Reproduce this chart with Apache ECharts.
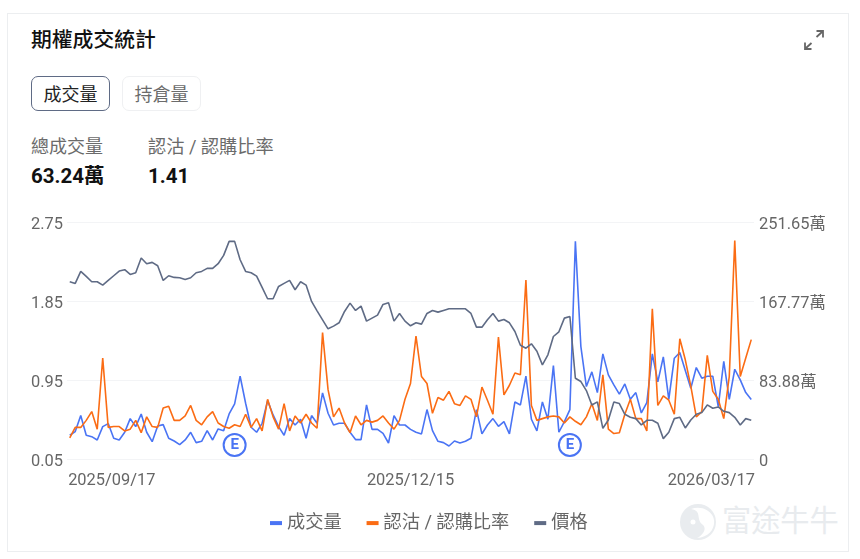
<!DOCTYPE html>
<html><head><meta charset="utf-8">
<script src="https://cdn.jsdelivr.net/npm/echarts@6/dist/echarts.min.js"></script>
<style>
html,body{margin:0;padding:0;background:#fff;width:860px;height:559px;overflow:hidden}
body{font-family:Roboto,"Noto Sans CJK TC",sans-serif;position:relative}
#card{position:absolute;left:7px;top:13px;width:840px;height:537px;border:1px solid #eceef0;box-sizing:content-box}
.t{position:absolute;white-space:nowrap;line-height:1}
.btn{position:absolute;top:76px;width:79px;height:35px;box-sizing:border-box;border-radius:7px;text-align:center;line-height:35px;font-size:18px}
#chart{position:absolute;left:0;top:0;width:860px;height:559px}
</style></head><body>
<div id="card"></div>
<div class="t" style="left:31px;top:30px;font-size:20.8px;font-weight:500;color:#111">期權成交統計</div>
<div class="btn" style="left:31px;border:1.5px solid #5f6b85;color:#222">成交量</div>
<div class="btn" style="left:122px;border:1.5px solid #eff0f2;color:#6b6b6b">持倉量</div>
<div class="t" style="left:31px;top:138px;font-size:18px;color:#6b6b6b">總成交量</div>
<div class="t" style="left:148px;top:138px;font-size:18.2px;color:#6b6b6b">認沽 / 認購比率</div>
<div class="t" style="left:31px;top:166px;font-size:20.5px;font-weight:700;color:#111">63.24萬</div>
<div class="t" style="left:148px;top:166px;font-size:20.5px;font-weight:700;color:#111">1.41</div>
<svg style="position:absolute;left:800px;top:26px" width="28" height="28" viewBox="0 0 28 28" fill="none" stroke="#666" stroke-width="1.8">
<path d="M16.5 11 L22 6 M16.5 5 H23 V11.5 M11.5 17 L6 22 M5 16.5 V23 H11.5"/></svg>
<svg style="position:absolute;left:679px;top:503px" width="38" height="38" viewBox="0 0 38 38">
<circle cx="19" cy="19" r="18" fill="#e9ecef"/><path d="M12 6 C24 8 16 16 24 22 C28 26 24 32 18 35 C30 34 36 26 35 17 C34 9 24 2 12 6Z" fill="#fff"/><circle cx="14" cy="19" r="2.5" fill="#fff"/></svg>
<div class="t" style="left:722px;top:507px;font-size:29.2px;color:#e8ebee">富途牛牛</div>
<div id="chart"></div>
<script>
const dates = [
'2025/09/17','2025/09/18','2025/09/19','2025/09/22','2025/09/23','2025/09/24','2025/09/25','2025/09/26','2025/09/29','2025/09/30',
'2025/10/01','2025/10/02','2025/10/03','2025/10/06','2025/10/07','2025/10/08','2025/10/09','2025/10/10','2025/10/13','2025/10/14','2025/10/15','2025/10/16','2025/10/17','2025/10/20','2025/10/21','2025/10/22','2025/10/23','2025/10/24','2025/10/27','2025/10/28','2025/10/29','2025/10/30','2025/10/31',
'2025/11/03','2025/11/04','2025/11/05','2025/11/06','2025/11/07','2025/11/10','2025/11/11','2025/11/12','2025/11/13','2025/11/14','2025/11/17','2025/11/18','2025/11/19','2025/11/20','2025/11/21','2025/11/24','2025/11/25','2025/11/26','2025/11/28',
'2025/12/01','2025/12/02','2025/12/03','2025/12/04','2025/12/05','2025/12/08','2025/12/09','2025/12/10','2025/12/11','2025/12/12','2025/12/15','2025/12/16','2025/12/17','2025/12/18','2025/12/19','2025/12/22','2025/12/23','2025/12/24','2025/12/26','2025/12/29','2025/12/30','2025/12/31',
'2026/01/02','2026/01/05','2026/01/06','2026/01/07','2026/01/08','2026/01/09','2026/01/12','2026/01/13','2026/01/14','2026/01/15','2026/01/16','2026/01/20','2026/01/21','2026/01/22','2026/01/23','2026/01/26','2026/01/27','2026/01/28','2026/01/29','2026/01/30',
'2026/02/02','2026/02/03','2026/02/04','2026/02/05','2026/02/06','2026/02/09','2026/02/10','2026/02/11','2026/02/12','2026/02/13','2026/02/17','2026/02/18','2026/02/19','2026/02/20','2026/02/23','2026/02/24','2026/02/25','2026/02/26','2026/02/27',
'2026/03/02','2026/03/03','2026/03/04','2026/03/05','2026/03/06','2026/03/09','2026/03/10','2026/03/11','2026/03/12','2026/03/13','2026/03/16','2026/03/17'];
const volume = [25.2,29.1,46.1,25.2,23.7,20.2,34.4,37.6,22.0,20.2,28.4,42.9,34.4,47.8,28.4,18.4,35.1,36.5,22.0,19.1,15.2,20.2,28.4,17.4,18.8,30.1,20.2,31.9,30.1,47.8,58.5,87.9,59.2,33.7,28.4,37.9,62.0,46.8,34.4,25.2,42.9,36.1,42.2,22.0,46.1,37.9,70.2,48.6,36.1,37.9,37.9,28.4,20.6,20.6,57.4,31.5,31.5,27.3,17.0,46.1,36.1,36.1,31.5,28.4,26.6,52.5,30.1,18.8,17.4,13.8,19.1,17.0,18.8,22.0,52.5,26.6,36.1,42.9,34.7,39.7,26.6,60.6,57.4,87.9,42.2,29.8,60.6,42.2,99.2,28.4,39.7,52.5,231.1,119.4,76.9,92.5,70.5,111.6,89.3,78.7,68.8,79.7,63.4,70.5,48.9,59.9,111.6,81.9,108.4,63.4,107.0,113.1,93.9,75.1,97.1,85.8,87.9,87.9,55.6,103.8,63.4,95.3,84.0,70.5,63.24];
const ratio = [0.29,0.41,0.41,0.49,0.59,0.39,1.20,0.41,0.42,0.42,0.37,0.39,0.49,0.35,0.53,0.42,0.41,0.63,0.65,0.49,0.49,0.54,0.66,0.49,0.44,0.53,0.59,0.46,0.42,0.40,0.44,0.42,0.56,0.41,0.51,0.37,0.73,0.53,0.39,0.68,0.37,0.54,0.46,0.56,0.46,0.40,1.49,0.84,0.53,0.63,0.46,0.35,0.54,0.44,0.49,0.47,0.49,0.54,0.46,0.39,0.49,0.73,0.91,1.45,0.99,0.91,0.57,0.75,0.72,0.82,0.68,0.66,0.77,0.73,0.53,0.87,0.72,0.56,1.44,0.78,0.89,1.03,1.01,2.09,0.66,0.49,0.51,0.53,0.54,0.53,0.46,0.53,0.48,0.44,0.53,0.68,0.49,1.01,0.39,0.34,0.35,0.56,0.73,0.51,0.51,0.37,1.76,0.66,0.77,0.72,0.56,1.42,1.18,0.88,0.53,0.59,1.23,0.82,0.73,0.51,0.99,2.54,0.99,1.20,1.41];
const price = [53.1,52.6,56.2,54.7,53.1,53.1,52.1,53.5,54.9,56.3,56.7,55.3,55.8,60.2,58.5,58.9,57.9,53.5,54.9,54.4,54.3,53.8,54.3,55.8,56.2,57.1,57.1,58.5,61.0,65.2,65.2,59.7,56.2,55.8,54.8,51.4,48.0,48.0,51.7,52.6,53.5,50.7,53.1,52.1,47.2,44.4,41.7,39.0,39.8,40.8,44.2,46.7,44.5,45.8,41.3,42.2,43.1,46.3,46.8,41.3,43.6,41.3,39.9,40.8,40.4,43.6,44.5,44.0,44.5,45.0,45.0,45.0,45.0,43.6,39.5,39.5,41.7,43.6,41.3,41.8,40.8,38.2,34.1,33.2,34.5,32.3,28.2,31.2,36.7,38.1,42.2,42.7,24.2,23.2,20.5,16.2,17.1,9.2,11.7,17.1,16.6,13.4,12.5,12.1,10.2,11.6,11.6,10.7,6.1,8.0,12.1,12.5,9.3,11.7,13.4,13.9,16.2,15.2,15.6,14.3,13.9,12.5,10.2,12.1,11.6];
const earningsDates = ['2025/10/29','2026/01/28'];
const earningsLevel = 14.9;
const xTickDates = ['2025/09/17','2025/12/15','2026/03/17'];
const ratioTicks = [0.05,0.95,1.85,2.75];
const volumeMax = 251.65;
const priceMax = 71;

const BLUE='#4a74f4', ORANGE='#fb6c14', GRAY='#5f6b85', TXT='#666666';
const FF='Roboto,"Noto Sans CJK TC",sans-serif';
const chart = echarts.init(document.getElementById('chart'),null,{renderer:'canvas'});
const line=(name,data,color,yi)=>({name,type:'line',data,yAxisIndex:yi,showSymbol:false,symbol:'none',
  lineStyle:{color,width:1.6},itemStyle:{color},silent:true});
chart.setOption({
  animation:false,
  backgroundColor:'transparent',
  grid:{left:67,right:106,top:222,height:237,containLabel:false},
  legend:{left:265,top:509,icon:'rect',itemWidth:12,itemHeight:4,itemGap:25,
    data:['成交量','認沽 / 認購比率','價格'],
    textStyle:{fontSize:18.2,color:TXT,fontFamily:FF}},
  xAxis:{type:'category',data:dates,boundaryGap:true,
    axisLine:{show:false},axisTick:{show:false},splitLine:{show:false},
    axisLabel:{color:TXT,fontSize:16.4,fontFamily:FF,margin:14,
      hideOverlap:false,showMinLabel:true,showMaxLabel:true,
      rich:{f:{fontSize:16.4,color:TXT,fontFamily:FF,padding:[0,0,0,84]},
            l:{fontSize:16.4,color:TXT,fontFamily:FF,padding:[0,80,0,0]}},
      formatter:v=>v===xTickDates[0]?'{f|'+v+'}':v===xTickDates[2]?'{l|'+v+'}':v,
      interval:(i,v)=>xTickDates.includes(v)}},
  yAxis:[
    {type:'value',min:ratioTicks[0],max:ratioTicks[3],position:'left',
     axisLine:{show:false},axisTick:{show:false,customValues:ratioTicks},splitLine:{show:false},
     axisLabel:{customValues:ratioTicks,color:TXT,fontSize:16.4,fontFamily:FF,align:'left',margin:36,
       verticalAlign:'top',lineHeight:6,formatter:v=>v.toFixed(2)}},
    {type:'value',min:0,max:volumeMax,interval:volumeMax/3,position:'right',
     axisLine:{show:false},axisTick:{show:false},
     splitLine:{show:true,lineStyle:{color:'#f3f4f6',width:1}},
     axisLabel:{color:TXT,fontSize:16.4,fontFamily:FF,align:'left',margin:5,showMaxLabel:true,showMinLabel:true,
       verticalAlign:'top',lineHeight:6,formatter:v=>v===0?'0':v.toFixed(2)+'萬'}},
    {type:'value',min:0,max:priceMax,show:false,splitLine:{show:false}}
  ],
  series:[
    line('成交量',volume,BLUE,1),
    line('認沽 / 認購比率',ratio,ORANGE,0),
    line('價格',price,GRAY,2),
    {name:'財報',type:'scatter',yAxisIndex:1,z:5,symbol:'circle',symbolSize:22,silent:true,
     data:earningsDates.map(d=>[d,earningsLevel]),
     itemStyle:{color:'#fff',borderColor:BLUE,borderWidth:2,opacity:1},
     label:{show:true,position:'inside',formatter:'E',color:BLUE,fontSize:15,fontWeight:700,fontFamily:FF}}
  ]
});
</script>
</body></html>
